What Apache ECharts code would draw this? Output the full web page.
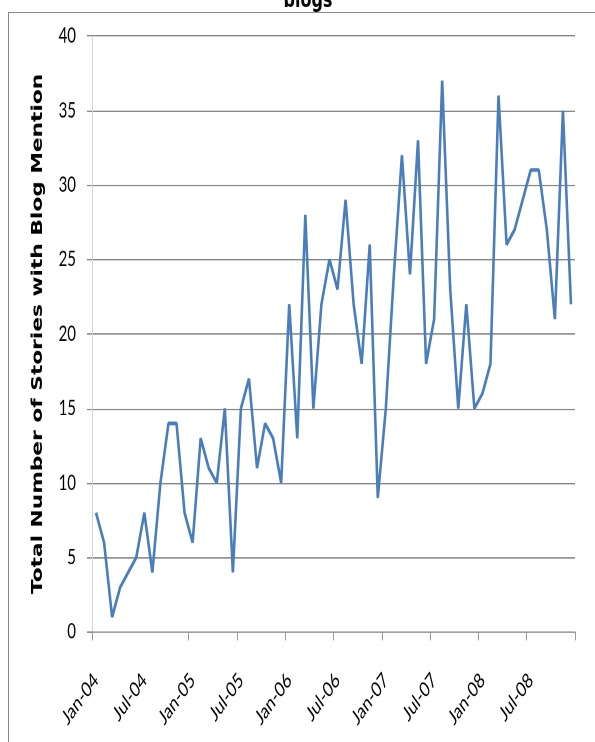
<!DOCTYPE html>
<html>
<head>
<meta charset="utf-8">
<script src="https://cdn.jsdelivr.net/npm/echarts@6/dist/echarts.min.js"></script>
<style>
html,body{margin:0;padding:0;background:#fff;overflow:hidden;}
#frame{position:absolute;left:8px;top:12px;width:600px;height:740px;border:1px solid #8a8a8a;box-sizing:border-box;}
#chart{position:absolute;left:0;top:0;width:595px;height:530px;transform:scaleY(1.4);transform-origin:0 0;}
</style>
</head>
<body>
<div id="frame"></div>
<div id="chart"></div>
<script>
const monthNames = ['Jan','Feb','Mar','Apr','May','Jun','Jul','Aug','Sep','Oct','Nov','Dec'];
const years = ['04','05','06','07','08'];
const categories = [];
years.forEach(y => monthNames.forEach(m => categories.push(m + '-' + y)));
const stories = [
  8, 6, 1, 3, 4, 5, 8, 4, 10, 14, 14, 8,
  6, 13, 11, 10, 15, 4, 15, 17, 11, 14, 13, 10,
  22, 13, 28, 15, 22, 25, 23, 29, 22, 18, 26, 9,
  15, 24, 32, 24, 33, 18, 21, 37, 23, 15, 22, 15,
  16, 18, 36, 26, 27, 29, 31, 31, 27, 21, 35, 22
];
const yTicks = [0, 5, 10, 15, 20, 25, 30, 35, 40];

const chart = echarts.init(document.getElementById('chart'), null, {renderer: 'canvas', devicePixelRatio: 2});
chart.setOption({
  animation: false,
  backgroundColor: 'transparent',
  title: {
    text: 'blogs',
    left: 303,
    textAlign: 'center',
    top: -12,
    textStyle: {fontFamily: 'DejaVu Sans', fontWeight: 'bold', fontSize: 16, color: '#000'}
  },
  grid: {left: 92, right: 20, top: 25.7, bottom: 78.6, containLabel: false},
  xAxis: {
    type: 'category',
    data: categories,
    boundaryGap: true,
    axisLine: {show: true, lineStyle: {color: '#9a9a9a', width: 1}},
    axisTick: {
      show: true,
      interval: function (i) { return i % 6 === 0 && i !== 6; },
      length: 6,
      lineStyle: {color: '#9a9a9a'}
    },
    axisLabel: {
      interval: 5,
      rotate: 45,
      margin: 32,
      fontFamily: 'Lato, sans-serif',
      fontSize: 15,
      color: '#000'
    },
    splitLine: {show: false}
  },
  yAxis: {
    type: 'value',
    min: yTicks[0],
    max: yTicks[yTicks.length - 1],
    interval: 5,
    name: 'Total Number of Stories with Blog Mention',
    nameLocation: 'middle',
    nameGap: 46,
    nameTextStyle: {fontFamily: 'DejaVu Sans', fontWeight: 'bold', fontSize: 15.5, color: '#000'},
    axisLine: {show: true, lineStyle: {color: '#d4d4d4', width: 1}},
    axisTick: {show: true, length: 5, lineStyle: {color: '#868686'}},
    axisLabel: {
      margin: 16,
      fontFamily: 'Lato, sans-serif',
      fontSize: 15,
      color: '#000'
    },
    splitLine: {show: true, lineStyle: {color: '#868686', width: 1}}
  },
  series: [{
    type: 'line',
    data: stories,
    symbol: 'none',
    lineStyle: {color: '#4a7ebb', width: 2.6},
    itemStyle: {color: '#4a7ebb'}
  }]
});
</script>
</body>
</html>
